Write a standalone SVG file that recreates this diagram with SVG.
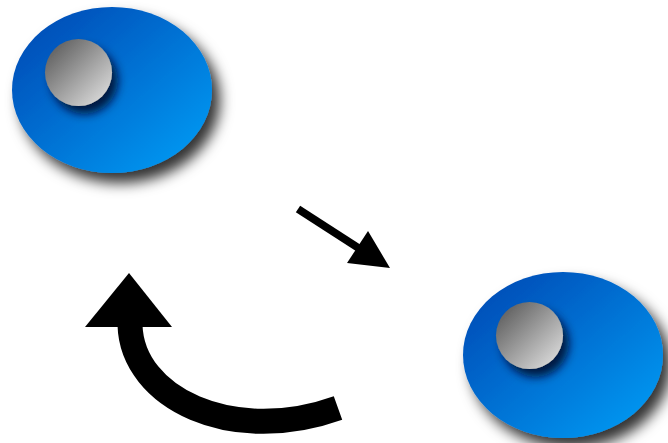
<svg xmlns="http://www.w3.org/2000/svg" width="668" height="443" viewBox="0 0 668 443">
<defs>
<linearGradient id="blue" x1="0" y1="0" x2="1" y2="1">
<stop offset="0" stop-color="#0044b0"/>
<stop offset="1" stop-color="#00a0f8"/>
</linearGradient>
<linearGradient id="gray" x1="0" y1="0" x2="1" y2="1">
<stop offset="0" stop-color="#505050"/>
<stop offset="1" stop-color="#e8e8e8"/>
</linearGradient>
<filter id="shadow" x="-20%" y="-20%" width="150%" height="150%">
<feDropShadow dx="8" dy="10" stdDeviation="7" flood-color="#000" flood-opacity="0.8"/>
</filter>
<filter id="shadow2" x="-30%" y="-30%" width="170%" height="170%">
<feDropShadow dx="6" dy="8" stdDeviation="5" flood-color="#001030" flood-opacity="0.9"/>
</filter>
</defs>
<rect width="668" height="443" fill="#fff"/>
<g id="node1">
<ellipse cx="112" cy="90" rx="100" ry="83" fill="url(#blue)" filter="url(#shadow)"/>
<circle cx="78.5" cy="72.5" r="33.5" fill="url(#gray)" filter="url(#shadow2)"/>
</g>
<g id="node2">
<ellipse cx="563" cy="355" rx="100" ry="83" fill="url(#blue)" filter="url(#shadow)"/>
<circle cx="529.5" cy="335.5" r="33.5" fill="url(#gray)" filter="url(#shadow2)"/>
</g>
<g id="connectors" fill="#000" stroke="#000">
<line x1="298" y1="209" x2="360" y2="249" stroke-width="8"/>
<polygon points="347,263 368,231 390,268" stroke="none"/>
<path d="M130,325 C132,398 232,446 338,408" fill="none" stroke-width="25"/>
<polygon points="129,273 85,327 172,327" stroke="none"/>
</g>
</svg>
